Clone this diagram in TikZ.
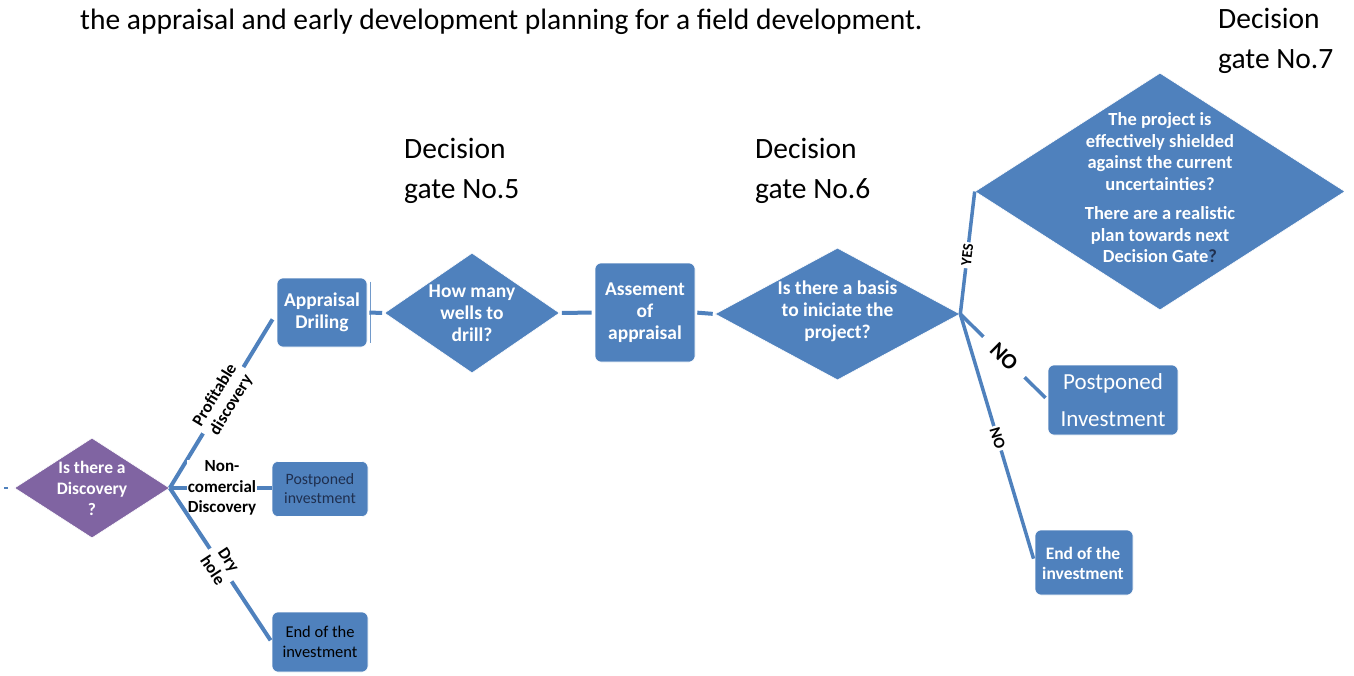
\documentclass[tikz,border=0pt]{standalone}
\usepackage{fontspec}
\setmainfont{Carlito}
\usetikzlibrary{shapes.geometric}
\definecolor{flowblue}{HTML}{4F81BD}
\definecolor{flowpurple}{HTML}{8064A2}
\definecolor{qdark}{HTML}{1F2F4F}
\begin{document}
\begin{tikzpicture}[x=1pt,y=-1pt,
  dia/.style={diamond, draw=white, line width=0.6pt, fill=flowblue, inner sep=0pt},
  box/.style={rectangle, rounded corners=6pt, fill=flowblue, draw=white, line width=0.6pt, inner sep=0pt},
  conn/.style={draw=flowblue, line width=4pt},
  lbl/.style={fill=white, text=black, inner sep=2pt, align=center},
  heading/.style={font=\fontsize{29.5}{40}\selectfont, align=left, anchor=west, inner sep=0pt},
  wtext/.style={text=white, align=center, font=\bfseries\fontsize{19.5}{22}\selectfont}
]
\useasboundingbox (0,0) rectangle (1354,675);

% headline and gate captions
\node[font=\fontsize{29.5}{32}\selectfont, anchor=base west, inner sep=0pt] (title) at (80,29)
  {the appraisal and early development planning for a field development.};
\node[heading] (gate5) at (404,171) {Decision\\gate No.5};
\node[heading] (gate6) at (755,171) {Decision\\gate No.6};
\node[heading] (gate7) at (1218,41) {Decision\\gate No.7};

% decision shapes
\node[dia, fill=flowpurple, minimum width=155, minimum height=100] (disc) at (92,488) {};
\node[text=white, align=center, font=\bfseries\fontsize{17.5}{21}\selectfont] at (disc) {Is there a\\Discovery\\?};

\node[dia, minimum width=175, minimum height=120] (wells) at (472,313) {};
\node[wtext] at (wells) {How many\\wells to\\drill?};

\node[dia, minimum width=245, minimum height=132] (basis) at (837.5,314) {};
\node[wtext] at (837.5,311) {Is there a basis\\to iniciate the\\project?};

\node[dia, minimum width=370, minimum height=237] (shield) at (1160,191.5) {};
\node[text=white, align=center, font=\bfseries\fontsize{18.5}{21.5}\selectfont] at (1160,188)
  {The project is\\effectively shielded\\against the current\\uncertainties?\\[8pt]
   There are a realistic\\plan towards next\\Decision Gate{\color{qdark}?}};

% process boxes
\node[box, minimum width=90, minimum height=69] (appr) at (322,312.5) {};
\node[wtext] at (appr) {Appraisal\\Driling};
\node[box, minimum width=100, minimum height=99] (assess) at (645,312.5) {};
\node[wtext] at (assess) {Assement\\of\\appraisal};

\node[box, minimum width=96, minimum height=55] (postL) at (320,489) {};
\node[text=qdark, align=center, font=\fontsize{15.8}{19}\selectfont] at (postL) {Postponed\\investment};
\node[box, minimum width=96, minimum height=60] (endL) at (320,642) {};
\node[text=black, align=center, font=\fontsize{16.5}{20}\selectfont] at (endL) {End of the\\investment};

\node[box, minimum width=130, minimum height=70] (postR) at (1113,400) {};
\node[text=white, align=center, font=\fontsize{23}{37}\selectfont] at (postR) {Postponed\\Investment};
\node[box, minimum width=98, minimum height=65] (endR) at (1084,562.5) {};
\node[text=white, align=center, font=\bfseries\fontsize{17.5}{20}\selectfont] at (1083,563) {End of the\\investment};

% shadow edge beside the drilling box
\draw[draw=flowblue!80, line width=1.5pt] ([xshift=3pt,yshift=-4pt]appr.north east) -- ([xshift=3pt,yshift=4pt]appr.south east);

% short stub on the left of the first decision
\draw[draw=flowblue, line width=1.5pt] ([xshift=-6pt]disc.west) -- ([xshift=-10pt]disc.west);

% branches of the discovery decision
\draw[conn, shorten >=8pt] (disc.east) -- (appr.west)
  node[lbl, pos=0.5, sloped, inner sep=4pt, font=\bfseries\fontsize{17}{19}\selectfont] {Profitable\\discovery};
\draw[conn] (disc.east) -- (disc.east -| postL.west);
\node[lbl, inner sep=1pt, font=\bfseries\fontsize{17}{20.5}\selectfont] (noncom) at (222,488) {Non-\\comercial\\Discovery};
\draw[conn, shorten >=2pt] (disc.east) -- (endL.west)
  node[lbl, pos=0.5, sloped, inner sep=4pt, font=\bfseries\fontsize{17}{19}\selectfont] {Dry\\hole};

% main chain
\draw[conn, shorten <=2pt, shorten >=2pt] (appr.east) -- (wells.west);
\draw[conn, shorten <=2pt, shorten >=3pt] (wells.east) -- (assess.west);
\draw[conn, shorten <=2pt, shorten >=2pt] (assess.east) -- (basis.west);

% outcomes of the basis decision
\draw[conn, line width=3.5pt] (basis.east) -- (shield.west)
  node[lbl, pos=0.48, sloped, inner sep=2pt, font=\bfseries\fontsize{15}{16}\selectfont] {YES};
\draw[conn, line width=3.5pt, shorten >=3pt] (basis.east) -- (postR.west)
  node[lbl, pos=0.5, sloped, inner sep=14pt, font=\bfseries\fontsize{22}{23}\selectfont] {NO};
\draw[conn, line width=3.5pt, shorten >=4pt] (basis.east) -- (endR.west)
  node[lbl, pos=0.5, sloped, inner sep=2pt, font=\bfseries\fontsize{16}{17}\selectfont] {NO};
\end{tikzpicture}
\end{document}
